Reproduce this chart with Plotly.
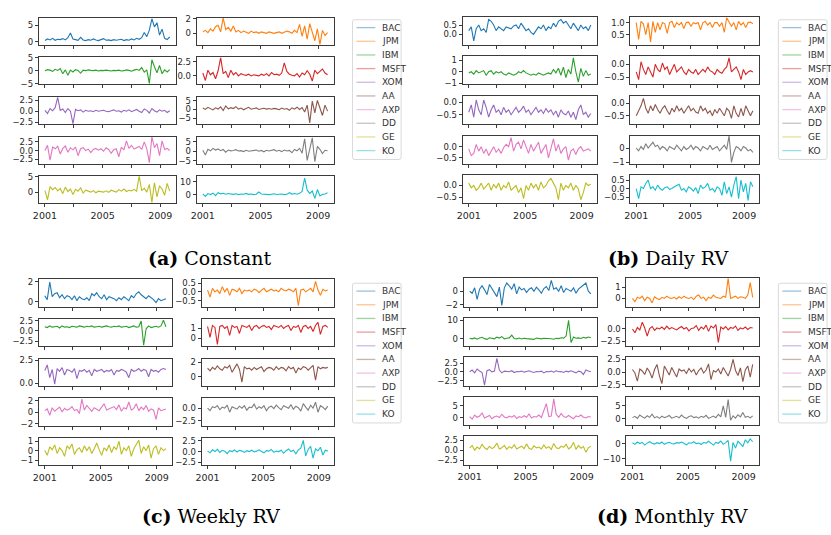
import plotly.graph_objects as go
import numpy as np

TICKERS = ["BAC", "JPM", "IBM", "MSFT", "XOM", "AA", "AXP", "DD", "GE", "KO"]
COLORS = ["#1f77b4", "#ff7f0e", "#2ca02c", "#d62728", "#9467bd",
          "#8c564b", "#e377c2", "#7f7f7f", "#bcbd22", "#17becf"]
START_YEAR, END_YEAR = 2001.0, 2009.65
X_TICKS = [2001, 2003, 2005, 2007, 2009]
X_TICK_LABELS = ["2001", "", "2005", "", "2009"]
CAPTIONS = {"a": ("(a)", "Constant"), "b": ("(b)", "Daily RV"),
            "c": ("(c)", "Weekly RV"), "d": ("(d)", "Monthly RV")}

# ---------------- (a) Constant ----------------
a_BAC = [0.3,0.8,0.5,1.0,0.4,0.7,0.6,0.9,0.5,1.2,2.6,0.8,0.6,0.4,1.3,0.5,0.3,0.6,0.4,0.8,0.5,0.3,0.6,0.9,0.4,0.5,0.3,0.6,0.4,0.5,0.7,0.3,0.6,0.4,0.8,0.5,1.0,0.7,1.2,2.8,1.5,3.5,7.0,4.5,5.8,2.0,3.8,1.0,0.6,1.4]
a_JPM = [0.2,0.4,0.1,0.6,0.3,0.9,1.1,0.2,2.1,0.5,0.8,0.3,1.0,0.2,0.4,0.1,0.3,0.2,0.0,0.3,0.1,0.2,0.0,0.2,0.1,0.0,0.2,0.1,0.0,0.1,0.2,0.0,0.1,0.3,0.2,0.0,0.4,0.1,1.2,-0.4,1.0,-0.8,1.3,0.2,-1.0,0.6,-1.5,0.4,-0.3,0.1]
a_IBM = [0.0,0.4,0.2,-0.3,0.5,0.1,0.8,-1.2,0.3,-1.8,0.2,-0.5,0.4,0.1,-1.0,0.2,0.0,0.3,0.1,0.0,0.2,-0.1,0.1,0.0,0.2,0.0,-0.1,0.1,0.0,0.2,-0.1,0.0,0.3,0.1,-0.2,0.2,0.5,0.1,1.2,-0.6,0.3,-4.9,4.2,1.5,-0.8,2.0,-1.2,0.3,-0.5,0.4]
a_MSFT = [0.5,-0.8,1.0,0.2,0.6,-0.5,0.9,3.2,0.4,0.8,-0.3,1.0,0.2,0.6,0.0,0.4,0.2,0.1,0.3,0.0,0.2,0.1,0.0,0.3,0.1,0.4,0.0,0.6,0.2,0.3,0.1,0.5,2.3,0.8,0.3,0.1,0.0,0.4,-0.2,0.5,0.2,0.9,0.3,-0.9,1.0,0.4,0.8,1.2,0.5,0.2]
a_XOM = [0.2,-0.5,0.6,0.1,0.8,3.1,0.2,0.5,-0.3,0.6,0.0,-2.8,0.4,0.1,0.3,-0.2,0.2,0.0,0.1,-0.1,0.2,0.0,0.1,0.2,0.0,-0.1,0.1,0.3,0.0,0.1,-0.2,0.2,0.0,0.3,-0.1,0.1,0.4,0.0,-0.3,0.5,0.2,-0.4,0.6,0.1,-0.2,0.3,0.0,0.2,-0.3,0.1]
a_AA = [0.8,0.0,1.2,0.5,-0.3,0.9,0.2,1.5,-0.6,2.0,0.3,1.0,0.5,1.6,0.2,0.8,-0.2,0.6,1.2,0.1,0.5,0.9,0.0,0.4,0.7,0.2,0.5,0.1,0.6,0.3,-0.2,0.8,0.1,0.5,-0.5,0.9,0.2,1.3,0.0,1.1,-1.5,2.5,-7.8,4.8,-2.0,5.2,1.0,-3.5,2.5,-1.0]
a_AXP = [0.0,1.5,-2.8,1.0,0.5,1.2,-1.0,0.6,1.3,-0.5,0.8,0.2,1.0,-1.5,0.5,0.8,0.0,0.4,-0.6,0.3,0.6,0.1,0.5,-0.2,0.8,0.3,-0.8,0.2,0.5,-1.8,1.0,0.2,2.8,0.6,1.5,0.4,0.8,1.2,0.3,2.5,0.5,-3.5,3.9,0.8,2.0,-1.5,2.8,0.3,0.6,0.0]
a_DD = [0.5,-2.0,1.0,0.2,1.5,0.6,1.2,0.3,0.9,-0.5,0.6,0.2,0.4,0.8,0.1,0.3,-0.2,0.5,0.0,0.3,0.2,0.6,0.0,0.4,-0.3,0.5,0.1,0.3,0.8,0.0,0.5,-0.2,0.6,0.1,0.4,-0.8,0.9,0.2,1.5,-1.0,6.5,-4.8,1.2,7.0,-5.5,2.5,1.0,-1.2,0.5,0.2]
a_GE = [0.5,-2.5,1.8,0.8,1.5,0.4,1.2,-0.5,1.6,0.2,1.0,-0.8,0.9,0.3,1.4,-0.3,0.6,0.2,0.0,0.5,-0.2,0.3,0.1,0.0,0.4,-0.1,0.6,0.2,0.0,0.8,0.3,1.0,0.2,0.6,0.4,0.9,0.3,5.2,0.5,1.2,0.0,2.5,-3.3,3.0,-1.5,2.0,1.0,-1.0,2.8,0.3]
a_KO = [0.5,-1.5,0.8,0.0,1.2,-0.8,1.5,0.6,1.0,0.3,0.8,0.5,0.2,0.6,0.0,0.4,0.3,0.9,0.2,0.5,0.0,0.3,2.0,0.5,0.2,0.4,0.0,0.3,0.6,0.1,0.3,0.5,0.0,0.2,1.5,0.4,0.8,0.3,1.0,2.5,13.0,3.5,1.0,2.8,-3.0,4.0,-1.0,0.2,0.5,1.5]

# ---------------- (b) Daily RV ----------------
b_BAC = [0.2,0.4,-0.35,0.3,0.5,0.2,0.3,0.1,0.8,0.7,0.5,0.2,0.4,0.3,0.2,0.4,0.35,0.3,0.45,0.5,0.3,0.6,0.4,0.2,0.3,0.1,0.0,0.2,0.4,0.3,0.5,0.2,0.4,0.3,0.6,0.4,0.7,0.8,0.6,0.7,0.5,0.3,0.6,0.4,0.2,0.5,0.3,0.4,0.2,0.5]
b_JPM = [1.0,0.3,1.05,0.95,0.5,1.0,0.2,1.05,0.6,1.0,0.7,1.0,0.95,0.55,1.0,1.05,0.8,1.0,0.9,1.0,0.75,1.0,1.02,0.85,1.0,0.95,1.0,0.7,1.0,1.05,0.9,1.0,0.8,1.0,1.0,0.85,1.0,0.6,1.2,1.0,0.85,1.0,0.7,1.05,0.9,1.0,0.8,1.0,1.02,0.95]
b_IBM = [-0.1,0.0,-0.2,0.1,-0.1,0.0,0.1,-0.3,0.0,0.1,-0.2,0.0,-0.1,0.0,-0.2,-0.3,-0.1,-0.2,-0.3,-0.2,0.0,-0.1,0.1,-0.1,-0.2,-0.3,-0.2,-0.3,-0.1,-0.2,-0.3,-0.2,-0.1,-0.2,0.2,-0.1,0.3,-0.3,0.4,-0.5,0.2,-0.2,1.2,0.0,-0.9,0.3,-0.4,0.1,-0.3,-0.2]
b_MSFT = [-0.3,-0.6,0.1,-0.2,-0.4,-0.1,-0.3,-0.5,0.0,-0.2,-0.3,0.05,-0.2,-0.1,-0.4,-0.2,0.0,-0.3,-0.2,-0.1,-0.3,-0.4,-0.2,-0.3,-0.35,-0.2,-0.4,-0.3,-0.2,-0.3,-0.1,-0.25,-0.3,-0.4,-0.2,-0.3,-0.35,-0.2,-0.1,0.25,-0.3,-0.2,-0.1,-0.3,-0.6,-0.2,-0.4,-0.3,-0.25,-0.3]
b_XOM = [-0.4,-0.1,-0.6,0.1,-0.3,-0.5,0.1,-0.2,-0.6,-0.3,-0.1,-0.4,-0.3,-0.5,-0.2,-0.4,-0.3,-0.5,-0.35,-0.2,-0.4,-0.3,-0.15,-0.4,-0.3,-0.5,-0.35,-0.2,-0.4,-0.3,-0.45,-0.25,-0.4,-0.3,-0.5,-0.35,-0.6,-0.3,-0.45,-0.5,-0.35,-0.6,-0.4,-0.7,-0.3,-0.1,-0.5,-0.4,-0.6,-0.45]
b_AA = [-0.5,-0.3,-0.1,0.2,-0.2,-0.4,-0.1,-0.3,-0.05,-0.25,-0.4,-0.2,-0.1,-0.3,-0.45,-0.2,-0.35,-0.1,-0.3,-0.2,-0.4,-0.25,-0.1,-0.3,-0.2,-0.35,-0.4,-0.1,-0.3,-0.2,-0.4,-0.3,-0.5,-0.25,-0.4,-0.2,-0.35,-0.5,-0.2,-0.3,-0.6,-0.1,-0.4,-0.55,-0.2,-0.5,-0.1,-0.3,-0.5,-0.3]
b_AXP = [-0.1,-0.4,-0.3,0.1,-0.2,0.0,-0.3,-0.1,-0.4,-0.2,0.0,-0.25,-0.1,-0.3,-0.05,0.1,0.0,0.4,-0.2,0.1,0.2,-0.1,0.3,0.0,-0.3,0.1,-0.2,0.0,0.2,-0.3,-0.1,0.1,-0.5,0.0,0.35,-0.2,0.1,-0.3,-0.1,0.0,-0.6,-0.2,-0.1,-0.35,-0.1,0.0,-0.2,-0.15,-0.1,-0.2]
b_DD = [0.0,-0.2,0.1,-0.1,0.3,0.0,0.2,0.4,0.1,0.2,-0.1,0.1,0.0,-0.2,0.1,0.0,-0.1,0.2,0.0,-0.2,0.1,-0.1,0.0,0.2,-0.1,0.1,0.0,-0.2,0.1,0.0,-0.1,0.2,-0.1,0.0,0.1,-0.2,0.0,0.2,-0.1,0.85,-1.0,-0.3,0.1,0.0,-0.2,0.1,0.0,-0.2,-0.1,-0.3]
b_GE = [0.1,-0.1,0.0,-0.2,-0.1,0.1,-0.15,0.0,0.1,-0.2,0.05,-0.1,0.1,-0.2,0.0,-0.1,0.15,-0.2,-0.1,0.0,-0.3,-0.1,-0.55,0.0,-0.2,0.1,-0.1,0.05,-0.2,0.15,-0.1,0.0,0.2,0.3,0.1,-0.1,-0.6,0.1,-0.2,0.0,-0.1,0.1,-0.2,0.0,-0.15,-0.6,-0.3,0.1,0.0,0.05]
b_KO = [0.0,-0.6,0.1,0.0,0.3,0.5,0.0,0.1,-0.1,0.2,0.0,-0.1,0.05,0.1,-0.05,0.0,0.1,0.2,0.25,-0.1,0.0,-0.2,0.1,0.0,-0.15,0.05,-0.3,0.2,0.0,0.1,0.3,-0.1,0.0,-0.2,0.1,0.0,-0.4,0.4,-0.3,0.1,-0.5,0.2,0.7,-0.6,0.5,-0.2,0.3,-0.7,0.4,0.1]

# ---------------- (c) Weekly RV ----------------
c_BAC = [0.6,0.2,2.0,0.5,0.8,0.9,0.4,0.7,0.3,0.6,0.5,0.2,0.6,0.1,0.5,0.3,0.2,0.4,0.1,0.8,0.6,0.9,0.5,0.3,0.7,0.2,0.5,0.4,0.3,0.1,0.4,0.2,0.5,0.3,0.1,0.6,0.4,0.8,1.0,0.7,0.5,0.3,0.6,0.4,0.2,-0.1,0.3,0.1,0.2,0.3]
c_JPM = [0.1,-0.3,0.2,0.0,0.1,-0.1,0.3,0.0,0.2,-0.2,0.15,0.1,0.0,0.2,-0.1,0.1,0.05,0.1,0.0,0.15,0.1,-0.05,0.1,0.2,0.0,0.1,0.15,0.05,0.1,0.0,0.2,0.1,0.05,0.15,0.1,0.0,0.2,-0.8,0.1,0.15,0.0,0.1,0.2,0.0,0.6,0.1,-0.2,0.15,0.05,0.1]
c_IBM = [1.0,0.8,1.2,0.9,1.0,1.1,0.7,1.2,0.9,1.0,0.8,1.1,1.0,0.9,1.2,1.0,0.9,1.1,1.0,1.2,0.9,1.0,1.1,0.9,1.0,1.2,1.0,0.9,1.1,1.0,1.2,0.9,1.0,1.1,0.8,1.0,1.2,0.9,1.0,2.4,-3.5,0.5,1.2,0.8,1.0,1.1,0.9,1.2,2.6,1.0]
c_MSFT = [1.2,0.1,1.3,1.1,-0.6,1.2,1.3,1.0,1.2,0.3,1.3,1.1,1.2,0.5,1.3,1.2,1.1,1.3,0.8,1.2,1.3,1.0,1.2,1.3,1.1,1.2,0.9,1.3,1.2,1.1,1.3,1.0,1.2,1.3,0.8,1.2,1.1,1.3,0.6,1.2,1.3,1.0,1.2,0.7,1.3,1.6,0.4,1.2,1.3,1.1]
c_XOM = [1.4,2.0,0.6,1.5,-0.1,1.6,1.3,1.7,0.9,1.5,1.4,1.2,1.6,0.5,1.4,1.3,1.5,1.2,1.4,0.8,1.5,1.3,1.4,1.5,1.2,1.4,1.3,1.5,0.9,1.4,1.3,1.5,1.4,1.2,0.6,1.5,1.3,1.4,1.6,1.3,1.5,1.4,0.7,1.5,1.3,1.4,1.2,1.5,1.6,1.5]
c_AA = [1.2,0.8,1.3,1.0,1.5,1.1,0.9,1.4,1.2,1.6,0.6,1.3,1.8,1.0,-0.8,1.4,1.1,1.2,0.9,1.3,1.0,1.2,1.4,0.7,1.1,1.3,1.2,0.9,1.4,1.0,1.3,1.2,0.8,1.4,1.1,1.3,0.5,1.2,1.0,1.4,1.3,0.9,1.2,1.6,-0.5,1.4,1.1,1.3,1.2,1.3]
c_AXP = [0.3,0.6,-0.5,0.8,0.2,0.5,0.9,0.1,0.7,0.4,0.6,1.0,0.3,0.5,-0.2,2.3,0.4,1.2,0.6,0.2,0.8,0.5,0.3,0.9,1.5,0.4,0.6,0.8,1.0,0.5,1.3,0.2,0.8,0.6,1.8,0.4,0.7,1.5,0.3,0.9,0.5,1.2,0.2,0.6,0.4,-1.2,0.8,0.3,0.5,0.6]
c_DD = [0.0,-0.5,0.3,0.1,0.5,-0.3,0.2,0.0,0.6,-0.8,0.3,0.1,-0.2,0.4,0.0,0.5,-0.4,0.2,0.1,0.8,-0.2,0.3,0.0,0.5,-0.5,0.2,0.4,-0.1,0.6,0.1,-0.3,0.5,0.2,0.0,0.7,-0.2,0.4,0.1,-0.6,0.9,0.2,-0.4,0.6,0.0,1.2,-0.8,0.5,0.2,-0.3,0.4]
c_GE = [0.0,-0.5,0.4,0.1,0.6,-0.3,0.3,0.0,-0.6,0.5,0.2,0.7,-0.4,0.1,0.3,-0.2,0.5,0.0,0.4,-0.3,0.2,0.8,0.1,-0.5,0.3,0.0,0.6,-0.2,0.4,0.1,1.0,-0.4,0.3,0.0,0.5,-0.6,0.2,0.7,1.1,-0.3,0.4,0.0,0.6,-0.8,0.2,0.5,-0.4,0.3,0.0,0.2]
c_KO = [0.1,-0.3,0.4,0.0,0.5,-0.2,0.3,0.1,-0.5,0.2,0.0,0.4,-0.1,0.3,0.1,-0.2,0.2,0.0,0.3,-0.1,0.1,0.4,0.0,-0.3,0.2,0.1,0.5,-0.2,0.1,0.0,0.3,-0.4,0.2,0.6,0.0,0.3,-0.5,0.4,0.8,2.6,-1.0,0.5,1.2,-1.5,0.6,0.2,1.0,-0.8,0.3,0.1]

# ---------------- (d) Monthly RV ----------------
d_BAC = [0.0,-0.3,0.5,-1.2,0.3,0.8,0.2,-0.5,1.0,0.4,0.0,-0.8,0.6,-2.1,0.5,1.2,0.8,0.3,1.1,-0.4,0.6,0.2,0.4,-0.2,0.3,0.5,0.0,0.6,0.2,-0.3,0.4,0.7,0.1,1.6,0.3,0.5,0.0,0.8,-0.2,0.4,0.2,0.0,0.5,-0.3,0.3,0.6,0.9,1.2,0.0,-0.4]
d_JPM = [0.0,-0.3,0.1,0.0,0.2,-0.2,0.1,0.0,-0.4,0.15,0.0,-0.1,0.1,0.0,0.2,0.05,0.0,0.1,-0.05,0.15,0.0,0.2,0.05,0.0,0.1,-0.1,0.2,0.3,0.0,0.1,-0.2,0.1,0.0,0.3,0.1,0.05,0.0,0.2,0.1,1.8,0.0,0.1,0.2,0.0,0.15,0.1,0.0,0.3,1.4,0.1]
d_IBM = [0.3,0.0,0.5,-0.2,0.4,0.8,0.1,-0.3,0.6,0.2,0.0,0.9,0.4,1.2,0.0,0.3,0.5,2.0,0.2,0.0,0.4,-0.1,0.3,0.1,0.0,0.2,-0.3,0.4,0.1,0.0,0.3,0.2,0.5,0.0,-0.2,0.3,0.1,0.6,0.4,1.5,10.0,-2.0,1.0,0.3,0.5,0.2,0.8,0.4,1.0,0.6]
d_MSFT = [0.0,-0.8,0.3,-0.2,1.4,0.2,-1.5,0.1,0.5,-0.3,0.2,0.0,0.4,-0.1,0.6,0.0,0.3,0.1,-0.2,0.2,0.5,0.0,0.3,-0.4,0.1,0.2,0.7,-0.3,0.4,0.0,0.8,-0.5,0.6,0.2,0.9,-2.8,0.4,0.0,0.5,-0.2,0.3,0.1,0.6,-0.3,0.2,0.0,0.4,-0.1,0.3,0.2]
d_XOM = [0.0,0.5,-0.3,0.8,0.2,-0.2,-3.8,0.3,0.6,0.0,0.2,3.8,0.5,-0.3,0.2,0.1,0.0,0.3,-0.2,0.1,0.0,0.2,-0.1,0.1,0.3,0.0,-0.2,0.1,0.0,0.2,-0.3,0.1,0.0,0.2,-0.1,0.3,0.0,0.1,-0.2,0.2,0.0,0.3,0.1,-0.3,0.2,0.0,-0.8,0.5,0.2,0.0]
d_AA = [0.5,-0.2,-1.8,0.6,0.2,-0.5,0.8,0.0,-1.2,0.5,1.5,-0.8,-2.3,1.2,0.3,-0.6,0.9,0.0,-1.0,0.6,0.2,0.4,-0.3,0.7,0.0,0.5,-0.6,0.3,0.8,-0.2,0.4,1.6,-1.5,0.3,0.0,0.6,-0.4,0.9,0.1,-0.8,0.5,2.5,0.3,-0.7,0.8,-1.9,0.4,1.2,-1.0,1.5]
d_AXP = [0.5,-0.5,1.2,0.3,0.8,2.0,0.0,0.6,1.0,-0.3,0.5,0.8,0.2,1.5,0.4,0.0,0.7,0.3,1.0,-0.2,0.5,0.2,0.9,0.3,1.6,0.0,0.6,0.4,1.2,0.2,3.0,5.8,0.6,0.8,7.7,1.5,0.3,1.8,0.6,0.2,1.0,0.4,-0.3,0.8,0.5,1.2,0.3,0.0,0.6,0.4]
d_DD = [0.5,1.0,0.2,1.5,0.8,0.3,1.2,0.6,1.8,0.4,0.9,0.2,1.1,0.5,0.8,1.3,0.3,0.7,1.0,0.4,1.5,0.6,0.2,0.9,1.2,0.5,0.8,0.3,1.0,0.6,1.4,0.2,0.7,1.1,0.5,1.8,0.8,5.0,0.6,7.5,-0.5,1.2,0.3,1.6,0.8,2.5,0.6,1.0,0.4,1.2]
d_GE = [0.5,1.2,0.0,0.8,0.3,1.5,0.6,0.2,1.0,0.4,0.8,1.8,0.3,0.6,1.2,0.2,0.9,0.5,1.4,0.3,0.7,1.0,0.4,1.6,0.5,0.2,1.1,0.6,0.8,0.3,1.3,0.5,0.9,0.2,1.7,0.6,0.4,1.0,0.7,1.5,0.3,0.8,2.0,0.2,1.2,0.5,0.9,-0.5,0.6,1.0]
d_KO = [0.5,-0.5,1.0,0.0,0.8,-1.0,0.3,1.2,0.2,-0.3,0.6,0.0,1.0,-0.5,0.4,0.8,0.1,-0.2,0.6,0.3,1.0,0.0,-0.8,0.5,0.2,1.2,0.0,0.4,-0.6,0.7,0.3,1.5,0.0,-1.0,0.8,0.2,1.6,-0.5,0.6,2.0,-11.5,0.8,-3.0,1.5,0.0,-2.0,2.5,0.5,3.0,1.2]

SERIES = {
    "a": [a_BAC, a_JPM, a_IBM, a_MSFT, a_XOM, a_AA, a_AXP, a_DD, a_GE, a_KO],
    "b": [b_BAC, b_JPM, b_IBM, b_MSFT, b_XOM, b_AA, b_AXP, b_DD, b_GE, b_KO],
    "c": [c_BAC, c_JPM, c_IBM, c_MSFT, c_XOM, c_AA, c_AXP, c_DD, c_GE, c_KO],
    "d": [d_BAC, d_JPM, d_IBM, d_MSFT, d_XOM, d_AA, d_AXP, d_DD, d_GE, d_KO],
}

# y tick values per subplot (order of TICKERS)
Y_TICKS = {
    "a": [[0, 5], [0, 2], [-5, 0, 5], [0, 2.5], [-2.5, 0, 2.5], [-5, 0, 5], [-2.5, 0, 2.5], [-5, 0, 5], [0, 5], [0, 10]],
    "b": [[0, 0.5], [0.5, 1.0], [-1, 0, 1], [-0.5, 0], [-0.5, 0], [-0.5, 0], [-0.5, 0], [-1, 0], [-0.5, 0], [-0.5, 0, 0.5]],
    "c": [[0, 2], [-0.5, 0, 0.5], [-2.5, 0, 2.5], [0, 1], [0, 2.5], [0, 2], [-2, 0, 2], [-2.5, 0], [-1, 0, 1], [-2.5, 0, 2.5]],
    "d": [[-2, 0], [0, 1], [0, 10], [-2.5, 0], [-2.5, 0, 2.5], [-2.5, 0, 2.5], [0, 5], [0, 5], [-2.5, 0, 2.5], [-10, 0]],
}

# ---------------- layout (pixels) ----------------
W, H = 831, 535
Y_RANGES = {
    "a": [[-1.0, 7.3], [-1.55, 2.1], [-5.3, 5.1], [-1.5, 3.25], [-2.9, 3.2], [-8.5, 7.2], [-3.8, 4.0], [-6.5, 7.6], [-3.6, 5.1], [-6.9, 14.5]],
    "b": [[-0.56, 0.94], [0.08, 1.24], [-1.1, 1.33], [-0.79, 0.31], [-0.88, 0.26], [-0.83, 0.29], [-0.76, 0.49], [-1.09, 0.86], [-0.75, 0.43], [-0.87, 0.78]],
    "c": [[-0.53, 2.27], [-0.86, 0.72], [-3.8, 2.9], [-0.8, 1.95], [-0.32, 2.7], [-1.36, 2.56], [-2.3, 2.46], [-3.5, 2.0], [-1.55, 1.35], [-3.2, 3.2]],
    "d": [[-2.3, 1.9], [-0.75, 1.79], [-4.1, 11.4], [-3.6, 2.3], [-4.0, 4.1], [-2.75, 2.9], [-3.0, 8.5], [-2.5, 8.5], [-3.75, 3.5], [-14, 4.7]],
}
COLS = {"a": [(33, 171), (192, 330)], "b": [(460, 595), (629, 758)],
        "c": [(33, 167), (197, 330)], "d": [(461, 595), (625, 758)]}
ROWS = {"a": (13, 40.3, 27.5), "b": (12, 40.3, 28.5),
        "c": (279, 40.3, 28), "d": (278, 40.2, 29)}
LEGEND = {"a": (349, 15, 23), "b": (778, 15, 23), "c": (349, 283, 291), "d": (778, 283, 291)}
CAPTION_POS = {"a": (205, 257), "b": (667, 257), "c": (206, 520), "d": (671, 520)}
X_RANGE = [2000.57, 2010.07]


def px(x):
    return x / W


def py(y):
    return 1 - y / H


def fmt(v, dec):
    s = f"{v:.1f}" if dec else f"{int(round(v))}"
    return s.replace("-", "\u2212")


fig = go.Figure()
layout = {}
shapes = []
annotations = []
n = 0
TICK_FONT = dict(family="DejaVu Sans", size=8.5, color="#262626")

for p in ["a", "b", "c", "d"]:
    top0, pitch, hgt = ROWS[p]
    for k, tk in enumerate(TICKERS):
        n += 1
        r, c = k // 2, k % 2
        x0, x1 = COLS[p][c]
        yt = top0 + pitch * r
        yb = yt + hgt
        vals = SERIES[p][k]
        xs = np.linspace(START_YEAR, END_YEAR, len(vals))
        xa = "x" if n == 1 else f"x{n}"
        ya = "y" if n == 1 else f"y{n}"
        fig.add_trace(go.Scatter(x=xs, y=vals, mode="lines", xaxis=xa, yaxis=ya,
                                 line=dict(color=COLORS[k], width=1.1), showlegend=False,
                                 hoverinfo="skip"))
        ticks = Y_TICKS[p][k]
        dec = any(abs(t - round(t)) > 1e-9 for t in ticks)
        bottom = r == 4
        axis_common = dict(showline=True, mirror=True, linecolor="#3a3a3a", linewidth=1,
                           showgrid=False, zeroline=False, ticks="outside", ticklen=3,
                           tickwidth=1, tickcolor="#3a3a3a")
        layout["xaxis" if n == 1 else f"xaxis{n}"] = dict(
            domain=[px(x0), px(x1)], anchor=ya, range=X_RANGE,
            tickvals=X_TICKS, ticktext=X_TICK_LABELS, showticklabels=bottom,
            tickfont=dict(family="DejaVu Sans", size=9.5, color="#262626"),
            **axis_common)
        layout["yaxis" if n == 1 else f"yaxis{n}"] = dict(
            domain=[py(yb), py(yt)], anchor=xa, range=Y_RANGES[p][k],
            tickvals=ticks, ticktext=[fmt(t, dec) for t in ticks],
            tickfont=TICK_FONT, **axis_common)

    # legend
    lx, ltop, lfirst = LEGEND[p]
    step = 13.9
    lbot = lfirst + step * 9 + 9
    lright = lx + 49
    rad = 2
    path = (f"M {px(lx+rad)},{py(ltop)} L {px(lright-rad)},{py(ltop)} "
            f"Q {px(lright)},{py(ltop)} {px(lright)},{py(ltop+rad)} "
            f"L {px(lright)},{py(lbot-rad)} Q {px(lright)},{py(lbot)} {px(lright-rad)},{py(lbot)} "
            f"L {px(lx+rad)},{py(lbot)} Q {px(lx)},{py(lbot)} {px(lx)},{py(lbot-rad)} "
            f"L {px(lx)},{py(ltop+rad)} Q {px(lx)},{py(ltop)} {px(lx+rad)},{py(ltop)} Z")
    shapes.append(dict(type="path", path=path, xref="paper", yref="paper",
                       line=dict(color="#d9d9d9", width=1), fillcolor="rgba(255,255,255,0.8)"))
    for k, tk in enumerate(TICKERS):
        yy = lfirst + step * k
        shapes.append(dict(type="line", xref="paper", yref="paper",
                           x0=px(lx + 4), x1=px(lx + 23), y0=py(yy), y1=py(yy),
                           line=dict(color=COLORS[k], width=1.3), opacity=0.45))
        annotations.append(dict(x=px(lx + 28), y=py(yy), xref="paper", yref="paper",
                                text=tk, showarrow=False, xanchor="left", yanchor="middle",
                                font=dict(family="DejaVu Sans", size=9, color="#333333")))
    # caption
    lab, cap = CAPTIONS[p]
    cx, cy = CAPTION_POS[p]
    annotations.append(dict(x=px(cx), y=py(cy), xref="paper", yref="paper",
                            text=f"<b>{lab}</b> {cap}", showarrow=False,
                            xanchor="center", yanchor="middle",
                            font=dict(family="DejaVu Serif", size=19, color="#000000")))

fig.update_layout(width=W, height=H, margin=dict(l=0, r=0, t=0, b=0),
                  paper_bgcolor="white", plot_bgcolor="white",
                  shapes=shapes, annotations=annotations, **layout)
fig.write_html("out.html")
